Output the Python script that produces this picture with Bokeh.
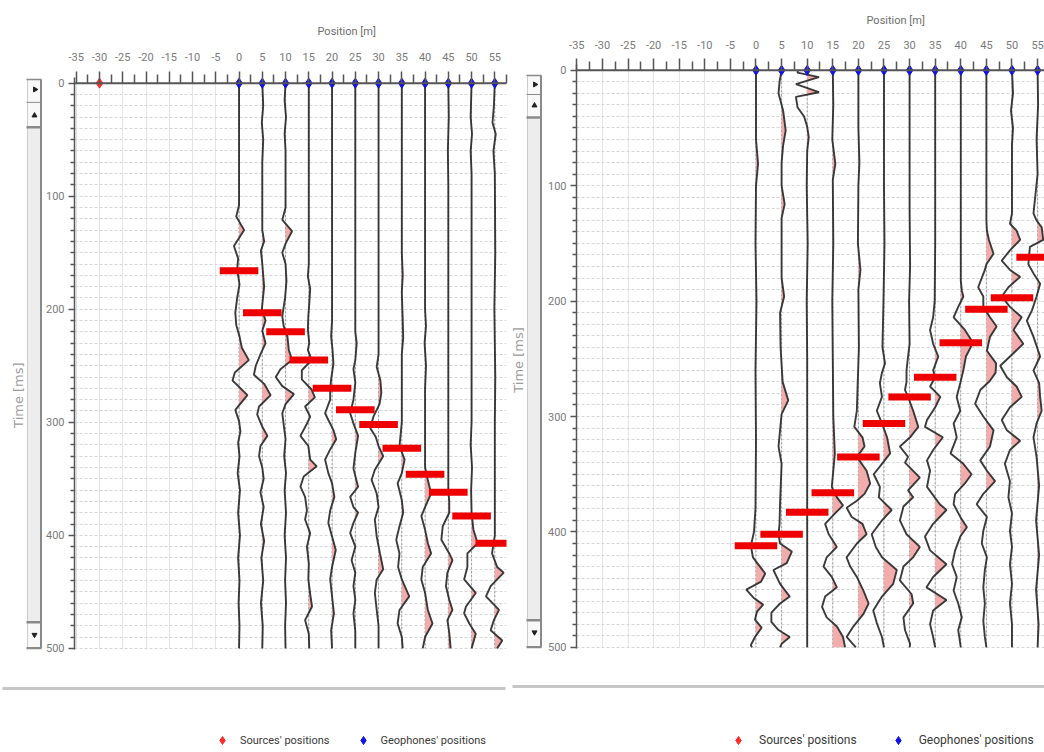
import math
from bokeh.plotting import figure
from bokeh.models import Range1d, FixedTicker, Span, Legend, LegendItem
from bokeh.layouts import row, column
from bokeh.embed import file_html
from bokeh.resources import INLINE
from bokeh.core.properties import value

# ---------------- data ----------------
GEOPHONES = [0, 5, 10, 15, 20, 25, 30, 35, 40, 45, 50, 55]
LEFT_SOURCES = [-30]
RIGHT_SOURCES = []          # the source of the right record is outside the shown range

LEFT_PICKS = [166, 203, 220, 245, 270, 289, 302, 323, 346, 362, 383, 407]
RIGHT_PICKS = [412, 402, 383, 366, 335, 306, 283, 266, 236, 207, 197, 162]

X_TICKS = [-35, -30, -25, -20, -15, -10, -5, 0, 5, 10, 15, 20, 25, 30, 35, 40, 45, 50, 55]
X_TICK_LABELS = ["-35", "-30", "-25", "-20", "-15", "-10", "-5", "0", "5", "10", "15",
                 "20", "25", "30", "35", "40", "45", "50", "55"]
Y_TICKS = [0, 100, 200, 300, 400, 500]
Y_TICK_LABELS = ["0", "100", "200", "300", "400", "500"]

# wiggle traces: (time ms, amplitude m) turning points
LEFT_TRACE_00 = [(0, 0), (108, 0), (118, -0.6), (130, 1.1), (144, -1.1), (155, -0.2), (165, -0.4), (178, 0.1),
                 (190, -0.4), (203, -0.8), (214, -0.6), (224, 0.1), (234, 0.6), (245, 2.1), (256, -0.9),
                 (263, -1.4), (276, 1.8), (289, -0.8), (299, 0.0), (308, 0.3), (318, -0.2), (330, 0.1),
                 (345, -0.3), (360, 0.2), (380, -0.2), (400, 0.2), (420, -0.2), (440, 0.1), (460, -0.1),
                 (480, 0.1), (500, 0)]
LEFT_TRACE_05 = [(0, 0), (20, 0.2), (35, -0.1), (50, 0.2), (70, 0), (130, 0), (140, 0.4), (148, -0.3),
                 (160, 0.0), (180, 0.4), (192, 0.1), (200, -0.1), (210, 0.7), (219, 0), (230, 0.7),
                 (240, -0.4), (250, -1.4), (258, -1.8), (266, 0.4), (276, 1.8), (286, -0.7), (293, -1.1),
                 (304, 0.0), (312, 1.1), (321, -0.4), (330, -0.7), (340, 0.0), (350, 0.3), (362, -0.4),
                 (375, 0.3), (390, -0.3), (405, 0.4), (420, -0.2), (440, 0.2), (460, -0.3), (480, 0.1), (500, 0)]
LEFT_TRACE_10 = [(0, 0), (15, -0.2), (30, 0.1), (45, -0.2), (60, 0), (110, 0), (121, -0.7), (131, 1.4),
                 (142, 0), (150, -0.7), (160, 0), (175, 0.2), (190, -0.1), (206, -0.7), (215, -0.4),
                 (224, 0.4), (236, 0.7), (245, 1.4), (253, -1.1), (260, -2.1), (268, -0.7), (275, 1.8),
                 (284, 0), (292, -0.7), (302, -0.4), (315, 0), (330, -0.3), (345, 0.1), (360, -0.2),
                 (380, 0.1), (400, -0.2), (420, 0.1), (440, -0.1), (460, 0.1), (480, -0.1), (500, 0)]
LEFT_TRACE_15 = [(0, 0), (160, 0), (171, -0.2), (182, 0.3), (195, 0.1), (206, -0.1), (218, -0.2), (230, 0.1),
                 (236, -0.2), (245, 0.6), (254, -1.5), (262, -1.5), (271, 0.6), (278, 1.3), (286, -0.8),
                 (295, 0.3), (302, -0.5), (312, -1.8), (321, -0.1), (333, 0.3), (339, 1.7), (348, -1.1),
                 (357, -1.8), (366, -0.8), (378, -0.4), (386, -0.8), (398, 0.3), (410, -0.4), (425, 0),
                 (439, -0.1), (452, 0.3), (463, 0.7), (475, -0.8), (487, 0), (500, 0.1)]
LEFT_TRACE_20 = [(0, 0), (210, 0), (224, -0.2), (236, 0.1), (248, 0.3), (262, -0.2), (271, -0.4), (280, -0.4),
                 (292, -1.5), (298, -0.8), (307, 0.3), (315, 0.9), (324, -0.4), (333, -1.5), (345, -0.8),
                 (354, 0), (366, 0.5), (378, -0.4), (389, -0.8), (401, 0), (413, 0.8), (428, 0), (439, -0.4),
                 (454, 0), (469, 0.4), (484, -0.2), (500, 0)]
LEFT_TRACE_25 = [(0, 0), (220, 0), (230, 0.3), (245, 0), (253, -0.4), (265, 0), (280, -0.4), (292, -1.1),
                 (301, -0.4), (312, 0.6), (327, 0), (341, -0.4), (357, 0.6), (366, -1.1), (375, -0.4),
                 (380, 0.6), (389, -0.4), (398, -1.1), (410, 0), (422, -0.8), (433, 0), (445, -0.4),
                 (457, 0), (469, -0.4), (485, 0), (500, 0)]
LEFT_TRACE_30 = [(0, 0), (240, 0), (251, -0.4), (263, 0.4), (274, 0.6), (284, 0.2), (295, -1.1), (305, -1.8),
                 (313, -0.6), (321, 0), (330, 1.0), (342, -0.8), (351, -1.5), (363, -0.4), (375, 0),
                 (386, -0.8), (401, -0.4), (416, 0.3), (430, 1.0), (439, -0.4), (451, -0.8), (466, -0.4),
                 (480, 0), (500, 0)]
LEFT_TRACE_35 = [(0, 0), (150, 0), (170, 0.2), (185, 0), (210, 0.2), (225, 0.3), (240, 0), (300, 0),
                 (321, -0.5), (333, 0.6), (345, 0), (354, -0.9), (369, 0), (380, 0.3), (392, -0.5),
                 (404, -1.2), (416, -0.5), (428, -0.8), (439, 0), (454, 1.6), (466, -0.5), (478, -0.9),
                 (490, 0), (500, 0.2)]
LEFT_TRACE_40 = [(0, 0), (200, 0), (215, 0.2), (230, -0.1), (250, 0.2), (270, 0), (340, 0), (351, 0.6),
                 (363, 1.3), (375, 0), (383, -0.8), (395, 0), (407, 0.6), (416, 1.3), (428, -0.5),
                 (439, -0.8), (451, 0), (466, 0.6), (478, 1.6), (490, 0), (500, -0.5)]
LEFT_TRACE_45 = [(0, 0), (30, 0.1), (60, -0.1), (90, 0), (360, 0), (370, 0.2), (380, 0.2), (392, -1.2),
                 (404, -1.5), (416, 0.2), (422, 0.9), (433, -0.2), (445, -0.5), (457, 0.2), (466, 0.9),
                 (475, -0.2), (486, 0.2), (500, 0.5)]
LEFT_TRACE_50 = [(0, 0), (30, -0.2), (45, 0.1), (60, -0.2), (80, 0), (300, 0), (320, -0.2), (340, 0.1),
                 (360, -0.1), (380, 0), (395, 0.4), (407, 1.3), (416, -0.9), (428, -0.9), (439, -1.6),
                 (451, 0.9), (463, -1.2), (469, -1.6), (478, -0.5), (487, 0.9), (500, 0)]
LEFT_TRACE_55 = [(0, 0), (20, -0.2), (35, -0.5), (45, 0.2), (60, -0.3), (80, 0), (150, 0.1), (200, -0.1),
                 (260, 0.1), (300, 0), (400, 0), (416, -0.6), (428, 0.5), (433, 1.9), (445, -0.9),
                 (454, -1.9), (466, 0.9), (475, -0.2), (484, -0.9), (493, 1.6), (500, 0.5)]

RIGHT_TRACE_00 = [(0, 0), (60, 0), (81, 0.4), (100, 0), (150, -0.1), (200, 0.1), (260, -0.1), (320, 0),
                  (380, -0.1), (400, -0.4), (412, -1.0), (422, -0.6), (436, 1.8), (443, 1.0), (450, -1.9),
                  (457, -0.5), (463, 1.4), (469, 0.2), (476, -0.2), (483, 1.1), (491, -0.2), (498, -1.0),
                  (500, -0.8)]
RIGHT_TRACE_05 = [(0, 0), (10, -0.4), (20, -0.6), (35, 0.3), (52, 0.8), (65, 0.3), (80, 0), (100, 0),
                  (116, 0.6), (128, 0), (180, 0), (196, 0.5), (210, -0.3), (240, -0.2), (270, 0.2),
                  (286, 1.3), (298, 0), (312, -0.3), (326, -0.6), (341, 0), (375, -0.3), (393, -0.4),
                  (402, -0.6), (410, -0.3), (417, 2.0), (427, 1.0), (433, -1.6), (445, -0.3), (456, 1.6),
                  (462, -0.3), (470, -2.0), (478, -2.0), (485, -0.6), (491, 1.6), (497, 0), (500, -0.3)]
RIGHT_TRACE_10 = [(0, -1.8), (2, -1.9), (6, 2.3), (12, -2.2), (19, 2.3), (23, -2.2), (32, -1.9), (40, -0.6),
                  (49, 0), (58, 0.3), (70, 0), (100, -0.1), (150, 0.1), (200, -0.1), (250, 0), (500, 0)]
RIGHT_TRACE_15 = [(0, 0), (30, 0.1), (60, -0.1), (81, 0.5), (95, 0), (150, 0.1), (200, -0.1), (250, 0),
                  (300, 0.1), (332, 0.4), (347, 0.1), (361, -0.2), (370, 0.8), (377, 2.0), (385, 0.2),
                  (393, -1.5), (402, -0.8), (413, 0.8), (422, -1.2), (430, -1.8), (439, -0.2), (448, 0.8),
                  (456, -1.5), (465, -2.1), (474, -1.2), (482, 0.8), (491, 2.0), (500, 2.4)]
RIGHT_TRACE_20 = [(0, 0), (50, 0), (80, 0.2), (100, 0), (150, -0.1), (173, 0.4), (190, 0), (240, 0.1),
                  (280, -0.2), (295, -0.3), (309, -0.8), (318, 0.8), (326, 1.2), (335, -0.3), (347, 1.6),
                  (358, 2.3), (367, 1.2), (373, -0.3), (379, -2.3), (387, -1.3), (393, 0.8), (402, 1.6),
                  (410, -0.3), (422, -2.3), (430, -1.6), (439, -0.3), (451, 1.0), (462, 2.0), (471, 1.0),
                  (482, -1.0), (491, -2.3), (500, -0.5)]
RIGHT_TRACE_25 = [(0, 0), (100, 0), (150, 0.1), (200, -0.1), (240, -0.3), (254, 0.2), (262, -0.4),
                  (271, -0.8), (283, -0.4), (295, -1.4), (306, -0.4), (318, 0.6), (332, 1.2), (341, -0.4),
                  (350, -2.0), (361, -0.8), (370, -1.0), (381, 1.5), (390, -0.4), (402, -2.4), (413, -1.6),
                  (422, -0.4), (433, 2.5), (445, 1.8), (456, -0.4), (468, -2.1), (479, -1.4), (491, -0.4),
                  (500, 0)]
RIGHT_TRACE_30 = [(0, 0), (120, 0), (170, 0.1), (200, -0.1), (237, 0), (248, -0.3), (260, -0.6), (270, -0.6),
                  (277, -0.9), (283, -0.3), (295, 0.7), (309, 1.7), (318, 0.1), (326, -1.9), (335, -0.3),
                  (340, -0.9), (353, 2.0), (364, -0.3), (370, 0.7), (378, -1.2), (390, -1.9), (402, -0.6),
                  (413, 2.0), (422, 0.7), (430, -1.2), (442, -1.9), (454, 0.4), (462, 0.7), (474, -1.2),
                  (485, -0.9), (497, 0.1), (500, 0)]
RIGHT_TRACE_35 = [(0, 0), (150, 0), (200, -0.1), (214, -0.4), (225, -1.0), (237, -0.4), (248, 0.6),
                  (260, -0.4), (266, 0), (274, -1.0), (283, 1.0), (292, 0), (303, -1.6), (309, -2.0),
                  (318, 1.5), (329, -0.4), (338, -1.6), (347, -1.0), (361, -1.6), (376, 0.9), (381, 2.2),
                  (393, -0.4), (404, -2.0), (416, -1.0), (428, 2.2), (439, -0.4), (448, -1.7), (459, 2.2),
                  (468, -0.4), (480, -1.0), (491, -0.4), (500, 0)]
RIGHT_TRACE_40 = [(0, 0), (150, 0), (182, 0), (191, 0.2), (196, 0.5), (205, -0.5), (214, -1.4), (225, 0.8),
                  (236, 2.4), (248, 1.0), (260, 0.5), (271, -0.1), (283, -0.8), (295, -0.1), (306, -1.4),
                  (318, -0.8), (332, -2.0), (341, 0.5), (350, 2.1), (358, 0.8), (367, -1.1), (376, -1.4),
                  (387, -0.1), (396, 1.2), (404, -0.1), (416, -1.1), (428, -1.7), (439, -0.8), (451, -1.4),
                  (462, -0.5), (474, 0.2), (485, -0.5), (497, -0.1), (500, 0)]
RIGHT_TRACE_45 = [(0, 0), (130, 0), (139, 0.1), (147, 0.5), (159, 1.4), (168, 0), (173, -0.3), (188, -1.6),
                  (196, -0.6), (205, -0.6), (214, 0.7), (222, 2.0), (231, 0.7), (243, 0.1), (254, 1.9),
                  (262, 1.8), (269, 0.7), (277, -1.2), (289, -2.2), (300, -0.6), (312, 1.4), (326, 0.7),
                  (338, -1.2), (347, 0.1), (356, 1.7), (367, -0.6), (376, -1.9), (387, 0.1), (399, -0.6),
                  (410, -0.9), (422, 0.1), (433, -0.3), (448, -0.6), (462, -0.3), (477, -0.6), (491, -0.3),
                  (500, 0)]
RIGHT_TRACE_50 = [(0, 0), (20, 0.2), (35, -0.2), (50, 0.2), (65, 0), (124, 0), (133, -0.4), (139, 0.9),
                  (147, 1.6), (156, -0.4), (165, -2.0), (173, -0.4), (179, 1.6), (188, -0.7), (196, -2.0),
                  (205, -0.4), (214, 1.9), (225, 0.3), (237, 2.2), (248, -0.4), (256, -2.3), (266, -1.0),
                  (274, 0.9), (283, 1.9), (292, -0.4), (303, -2.0), (312, -1.0), (321, 1.6), (329, -0.4),
                  (341, -1.4), (356, -0.4), (370, -0.7), (384, 0), (399, -0.4), (413, 0), (428, -0.4),
                  (445, 0), (462, -0.4), (480, 0), (500, 0)]
RIGHT_TRACE_55 = [(0, 0), (30, 0.1), (60, -0.2), (90, 0), (124, -0.8), (130, -0.2), (136, 0.8), (147, 1.1),
                  (153, -1.5), (168, -1.8), (176, -0.8), (185, 0.5), (196, -0.2), (208, -1.1), (217, -2.1),
                  (231, -0.8), (248, 0.5), (260, -0.8), (271, 0.3), (283, 0.5), (295, 0.8), (306, -0.2),
                  (318, -0.8), (335, -0.2), (360, 0.3), (390, -0.3), (420, 0.3), (450, -0.3), (480, 0.2),
                  (500, 0)]

LEFT_TRACES = [LEFT_TRACE_00, LEFT_TRACE_05, LEFT_TRACE_10, LEFT_TRACE_15, LEFT_TRACE_20, LEFT_TRACE_25,
               LEFT_TRACE_30, LEFT_TRACE_35, LEFT_TRACE_40, LEFT_TRACE_45, LEFT_TRACE_50, LEFT_TRACE_55]
RIGHT_TRACES = [RIGHT_TRACE_00, RIGHT_TRACE_05, RIGHT_TRACE_10, RIGHT_TRACE_15, RIGHT_TRACE_20, RIGHT_TRACE_25,
                RIGHT_TRACE_30, RIGHT_TRACE_35, RIGHT_TRACE_40, RIGHT_TRACE_45, RIGHT_TRACE_50, RIGHT_TRACE_55]

# ---------------- styles ----------------
FONT = "Roboto"
AXIS_GREY = "#555555"
LABEL_GREY = "#7a7a7a"
TRACE_COLOR = "#262626"
FILL_PINK = "#f2a8a8"
PICK_RED = "#ee0000"
SRC_RED = "#ff2a2a"
GEO_BLUE = "#1212e6"
PICK_WIDTH_M = 8.3

LEFT_CFG = dict(side_w=42, sb_x=27, main_w=466, main_h=657, bl=29, br=2, bt=77, x0=-35.38, x1=57.51,
                title_offset=243, title_standoff=24, tick_standoff=11,
                foot_h=93, line_y=62, line_x=(2, 505), leg_x=212, leg_standoff=8, leg_spacing=23, leg_font="11px",
                scroll=dict(top=-3.2, r=5.6, s1=17, u=28.6, s2=39, s3=477, d=488, end=500),
                label_x=18, label_t=276)
RIGHT_CFG = dict(side_w=34, sb_x=19, main_w=502, main_h=656, bl=34, br=0, bt=64, x0=-35.06, x1=56.35,
                 title_offset=290, title_standoff=22, tick_standoff=10,
                 foot_h=94, line_y=64, line_x=(4, 536), leg_x=220, leg_standoff=11, leg_spacing=31, leg_font="12px",
                 scroll=dict(top=4.5, r=12.3, s1=21, u=30.5, s2=41, s3=476.6, d=487, end=500),
                 label_x=10, label_t=251)


def with_crossings(trace):
    """Add the zero crossings of the drawn polyline so the positive fill follows it."""
    ts, amps = [trace[0][0]], [trace[0][1]]
    for (t0, a0), (t1, a1) in zip(trace, trace[1:]):
        if a0 * a1 < 0:
            ts.append(t0 + (t1 - t0) * a0 / (a0 - a1))
            amps.append(0.0)
        ts.append(t1)
        amps.append(a1)
    return ts, amps


def make_panel(cfg, traces, picks, sources):
    yr = Range1d(Y_TICKS[-1] + 1, -5)
    p = figure(width=cfg["main_w"], height=cfg["main_h"], x_range=Range1d(cfg["x0"], cfg["x1"]), y_range=yr,
               x_axis_location="above", output_backend="svg", toolbar_location=None,
               min_border_left=cfg["bl"], min_border_right=cfg["br"], min_border_top=cfg["bt"],
               min_border_bottom=8, title="Position [m]")
    p.outline_line_color = None

    t = p.title
    t.align = "left"
    t.offset = cfg["title_offset"]
    t.standoff = cfg["title_standoff"]
    t.text_font = FONT
    t.text_font_size = "11px"
    t.text_font_style = "normal"
    t.text_color = "#6e6e6e"

    x_minor = [v + 2.5 for v in X_TICKS]
    xa = p.xaxis[0]
    xa.ticker = FixedTicker(ticks=X_TICKS, minor_ticks=x_minor)
    xa.major_label_overrides = dict(zip(X_TICKS, X_TICK_LABELS))
    xa.axis_line_color = None
    xa.major_tick_line_color = AXIS_GREY
    xa.minor_tick_line_color = AXIS_GREY
    xa.major_tick_line_width = 1.5
    xa.minor_tick_line_width = 1.5
    xa.major_tick_out = 6
    xa.major_tick_in = 6
    xa.minor_tick_out = 3
    xa.minor_tick_in = 6
    xa.major_label_standoff = cfg["tick_standoff"]
    xa.major_label_text_font = FONT
    xa.major_label_text_font_size = "11px"
    xa.major_label_text_color = LABEL_GREY

    y_minor = [h + d for h in Y_TICKS[:-1] for d in range(10, 100, 10)]
    ya = p.yaxis[0]
    ya.ticker = FixedTicker(ticks=Y_TICKS, minor_ticks=y_minor)
    ya.major_label_overrides = dict(zip(Y_TICKS, Y_TICK_LABELS))
    ya.axis_line_color = AXIS_GREY
    ya.axis_line_width = 1.5
    ya.major_tick_line_color = AXIS_GREY
    ya.minor_tick_line_color = AXIS_GREY
    ya.major_tick_line_width = 1.5
    ya.minor_tick_line_width = 1.5
    ya.major_tick_out = 6
    ya.major_tick_in = 0
    ya.minor_tick_out = 4
    ya.minor_tick_in = 0
    ya.major_label_standoff = 4
    ya.major_label_text_font = FONT
    ya.major_label_text_font_size = "11px"
    ya.major_label_text_color = LABEL_GREY

    p.xgrid.grid_line_color = "#e1e4ea"
    p.xgrid.grid_line_width = 1
    p.ygrid.grid_line_color = "#d6d6d6"
    p.ygrid.grid_line_dash = "3 2"
    p.ygrid.minor_grid_line_color = "#d6d6d6"
    p.ygrid.minor_grid_line_dash = "3 2"

    # trace baselines
    n = len(GEOPHONES)
    p.segment(x0=GEOPHONES, y0=[Y_TICKS[0]] * n, x1=GEOPHONES, y1=[Y_TICKS[-1]] * n,
              line_color="#9a9a9a", line_dash="2 2", line_width=1)

    fill_xs, fill_ys, line_xs, line_ys = [], [], [], []
    for pos, tr in zip(GEOPHONES, traces):
        ts, amps = with_crossings(tr)
        fill_xs.append([pos] + [pos + max(a, 0.0) for a in amps] + [pos])
        fill_ys.append([ts[0]] + ts + [ts[-1]])
        line_xs.append([pos + a for (_, a) in tr])
        line_ys.append([tt for (tt, _) in tr])
    p.patches(xs=fill_xs, ys=fill_ys, fill_color=FILL_PINK, fill_alpha=0.95, line_color=None)
    p.multi_line(xs=line_xs, ys=line_ys, line_color=TRACE_COLOR, line_width=1.9, line_alpha=0.9)

    p.add_layout(Span(location=0, dimension="width", line_color=AXIS_GREY, line_width=2))

    p.rect(x=GEOPHONES, y=picks, width=PICK_WIDTH_M, height=7, height_units="screen",
           fill_color=PICK_RED, line_color=None)
    p.scatter(x=GEOPHONES, y=[0] * n, marker="diamond", size=10, fill_color=GEO_BLUE, line_color=GEO_BLUE)
    p.scatter(x=sources, y=[0] * len(sources), marker="diamond", size=10, fill_color=SRC_RED,
              line_color=SRC_RED)

    # scroll-bar strip and the time-axis caption
    sc = cfg["scroll"]
    a = cfg["sb_x"]
    b = a + 13.5
    s = figure(width=cfg["side_w"], height=cfg["main_h"], x_range=Range1d(0, cfg["side_w"]), y_range=yr,
               x_axis_type=None, y_axis_type=None, output_backend="svg", toolbar_location=None,
               min_border_left=0, min_border_right=0, min_border_top=cfg["bt"], min_border_bottom=8)
    s.outline_line_color = None
    s.quad(left=[a], right=[b], top=[sc["top"]], bottom=[sc["end"]], fill_color="#ededed", line_color=None)
    s.quad(left=[a, a], right=[b, b], top=[sc["top"], sc["s3"]], bottom=[sc["s2"], sc["end"]],
           fill_color="#f8f8f8", line_color=None)
    s.segment(x0=[b, a], y0=[sc["top"], sc["top"]], x1=[b, a], y1=[sc["end"], sc["end"]],
              line_color=["#8a8a8a", "#cdcdcd"], line_width=[2, 1])
    ys_sep = [sc["top"], sc["s1"], sc["s2"], sc["s3"], sc["end"]]
    s.segment(x0=[a - 1] * 5, y0=ys_sep, x1=[b + 0.5] * 5, y1=ys_sep, line_color="#8a8a8a",
              line_width=[1.5, 1, 2.5, 2.5, 2.5])
    s.scatter(x=[a + 7.5], y=[sc["r"]], marker="triangle", angle=-math.pi / 2, size=5, color="#222222")
    s.scatter(x=[a + 7], y=[sc["u"]], marker="triangle", size=5, color="#222222")
    s.scatter(x=[a + 7], y=[sc["d"]], marker="inverted_triangle", size=5, color="#222222")
    s.text(x=[cfg["label_x"]], y=[cfg["label_t"]], text=["Time [ms]"], angle=math.pi / 2, text_align="center",
           text_baseline="middle", text_font=value("DejaVu Sans"), text_font_size="13px",
           text_color="#9c9c9c")

    # footer: separator and legend
    pw = cfg["side_w"] + cfg["main_w"]
    fh = cfg["foot_h"]
    f = figure(width=pw, height=fh, x_range=Range1d(0, pw), y_range=Range1d(0, fh),
               x_axis_type=None, y_axis_type=None, output_backend="svg", toolbar_location=None, min_border=0)
    f.outline_line_color = None
    f.segment(x0=[cfg["line_x"][0]], y0=[cfg["line_y"]], x1=[cfg["line_x"][1]], y1=[cfg["line_y"]],
              line_color="#c6c6c6", line_width=3)
    # legend proxies (kept below the visible footer area)
    rs = f.scatter(x=[pw / 2], y=[-fh], marker="diamond", size=9, fill_color=SRC_RED, line_color=SRC_RED)
    rg = f.scatter(x=[pw / 2], y=[-fh], marker="diamond", size=9, fill_color=GEO_BLUE, line_color=GEO_BLUE)
    leg = Legend(items=[LegendItem(label="Sources' positions", renderers=[rs]),
                        LegendItem(label="Geophones' positions", renderers=[rg])],
                 location=(cfg["leg_x"], 0), orientation="horizontal", glyph_width=20, glyph_height=20,
                 label_standoff=cfg["leg_standoff"], spacing=cfg["leg_spacing"], padding=0, margin=0,
                 border_line_color=None, background_fill_alpha=0, label_text_font=FONT,
                 label_text_font_size=cfg["leg_font"], label_text_color="#3a3a3a")
    f.add_layout(leg)

    return column(row(s, p), f)


left = make_panel(LEFT_CFG, LEFT_TRACES, LEFT_PICKS, LEFT_SOURCES)
right = make_panel(RIGHT_CFG, RIGHT_TRACES, RIGHT_PICKS, RIGHT_SOURCES)
layout = row(left, right)

open("out.html", "w").write(file_html(layout, INLINE))
